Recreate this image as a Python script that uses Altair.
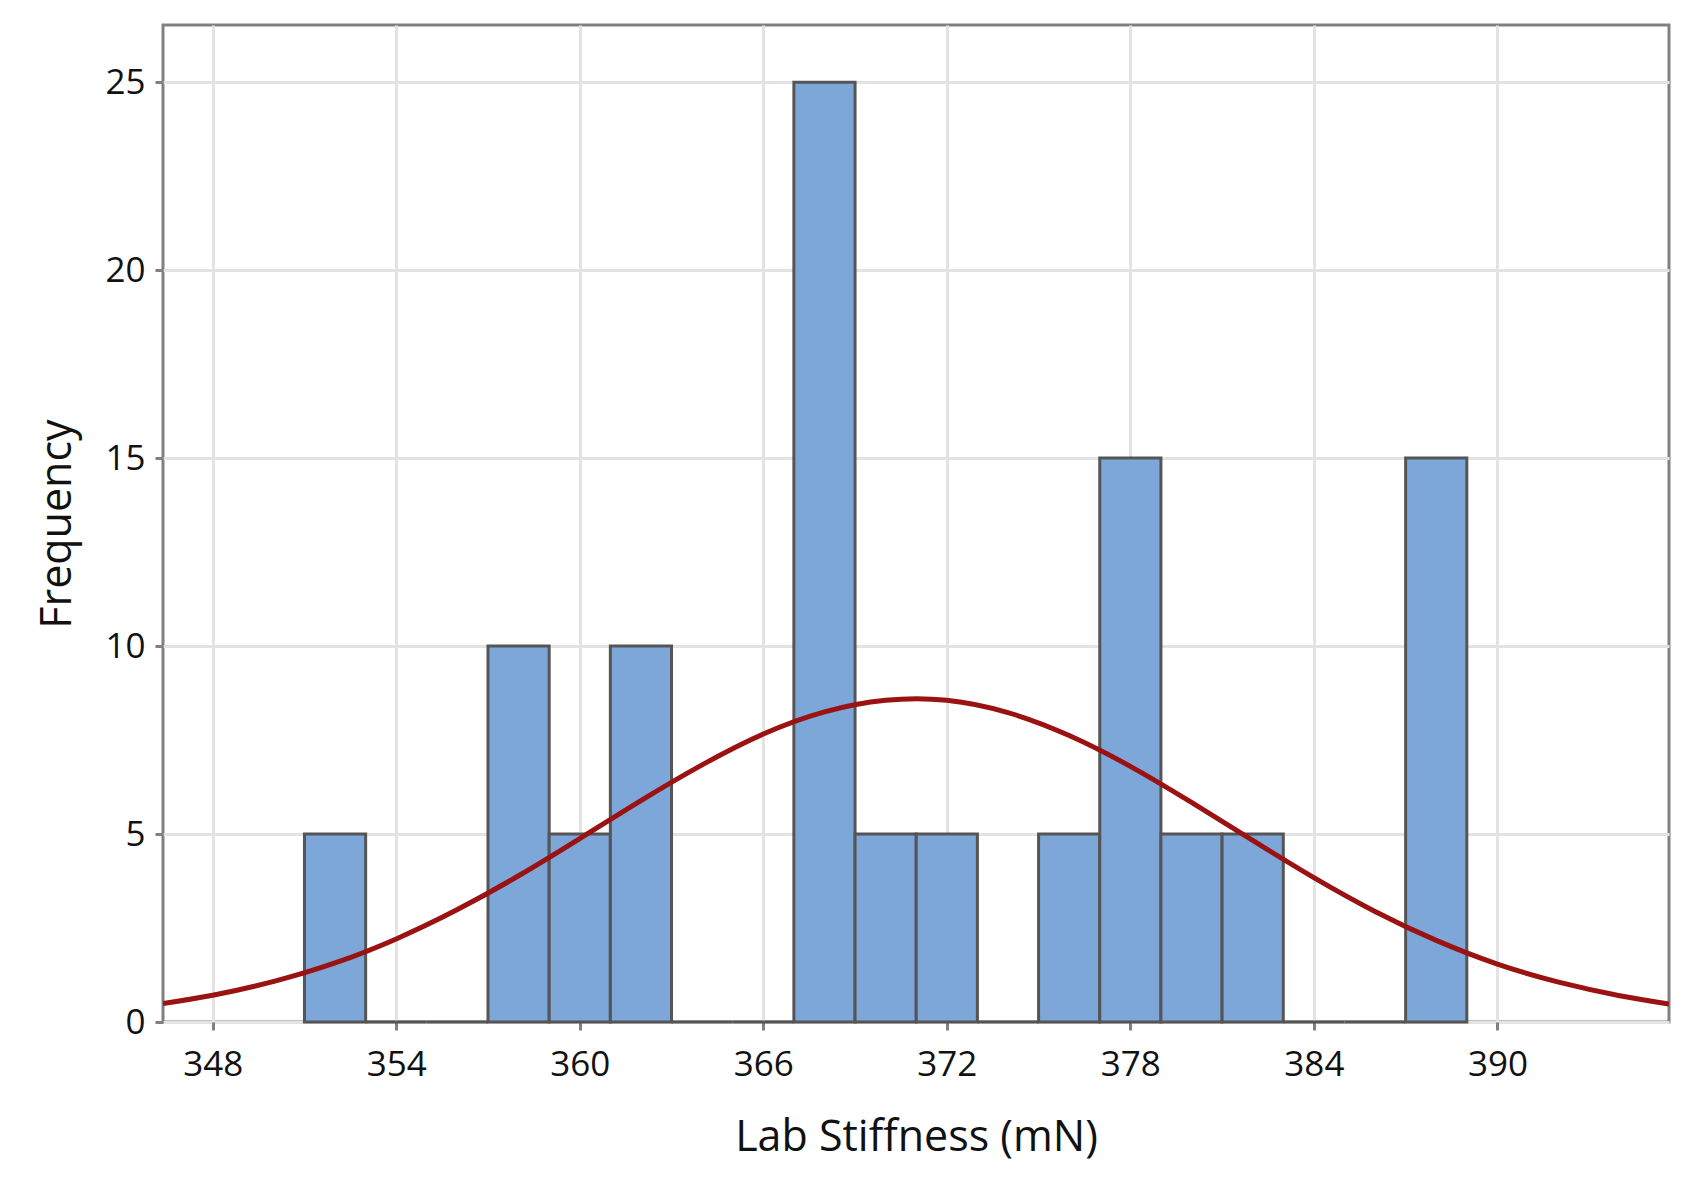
import altair as alt
import pandas as pd

# Histogram bins (lower / upper edges) and frequencies
bin_start = [351, 353, 355, 357, 359, 361, 363, 365, 367, 369, 371, 373, 375, 377, 379, 381, 383, 385, 387]
bin_end = [353, 355, 357, 359, 361, 363, 365, 367, 369, 371, 373, 375, 377, 379, 381, 383, 385, 387, 389]
frequency = [5, 0, 0, 10, 5, 10, 0, 0, 25, 5, 5, 0, 5, 15, 5, 5, 0, 0, 15]

# Fitted normal curve
curve_x = [346.375, 348, 350, 352, 354, 356, 358, 360, 362, 364, 366, 368, 370,
           372, 374, 376, 378, 380, 382, 384, 386, 388, 390, 392, 394, 395.61]
curve_y = [0.49, 0.71, 1.08, 1.57, 2.21, 2.99, 3.89, 4.88, 5.89, 6.84, 7.66, 8.25, 8.56,
           8.56, 8.23, 7.62, 6.80, 5.84, 4.83, 3.84, 2.94, 2.17, 1.54, 1.06, 0.70, 0.48]

x_ticks = [348, 354, 360, 366, 372, 378, 384, 390]
y_ticks = [0, 5, 10, 15, 20, 25]

x_domain = [346.375, 395.61]
y_domain = [0, 26.52]

bars_df = pd.DataFrame({"start": bin_start, "end": bin_end, "freq": frequency})
curve_df = pd.DataFrame({"x": curve_x, "y": curve_y})

FONT = "Open Sans"

x_scale = alt.Scale(domain=x_domain, nice=False, zero=False)
y_scale = alt.Scale(domain=y_domain, nice=False)

x_axis = alt.Axis(
    values=x_ticks, title="Lab Stiffness (mN)", grid=True, gridColor="#e3e3e3", gridWidth=3,
    domain=False, tickColor="#808080", tickWidth=3, tickSize=8,
    labelFont=FONT, labelFontSize=35, labelColor="#111111", labelPadding=17,
    titleFont=FONT, titleFontSize=43, titleFontWeight="normal", titleColor="#111111",
    titlePadding=34,
)
y_axis = alt.Axis(
    values=y_ticks, title="Frequency", grid=True, gridColor="#e3e3e3", gridWidth=3,
    domain=False, tickColor="#808080", tickWidth=3, tickSize=8,
    labelFont=FONT, labelFontSize=35, labelColor="#111111", labelPadding=10,
    titleFont=FONT, titleFontSize=43, titleFontWeight="normal", titleColor="#111111",
    titlePadding=25,
)

bars = alt.Chart(bars_df).mark_rect(
    color="#7da7d8", stroke="#555555", strokeWidth=3
).encode(
    x=alt.X("start:Q", scale=x_scale, axis=x_axis),
    x2="end:Q",
    y=alt.Y("freq:Q", scale=y_scale, axis=y_axis),
    y2=alt.datum(0),
)

curve = alt.Chart(curve_df).mark_line(
    color="#9a1212", strokeWidth=5, interpolate="natural", clip=True
).encode(
    x=alt.X("x:Q", scale=x_scale),
    y=alt.Y("y:Q", scale=y_scale),
)

chart = alt.layer(bars, curve).properties(
    width=1506, height=997,
    autosize=alt.AutoSizeParams(type="none"),
    padding={"left": 155, "top": 17, "right": 10, "bottom": 160},
    background="white",
).configure_view(
    stroke="#808080", strokeWidth=3
)

chart.save("out.html", embed_options={"renderer": "svg", "actions": False})
